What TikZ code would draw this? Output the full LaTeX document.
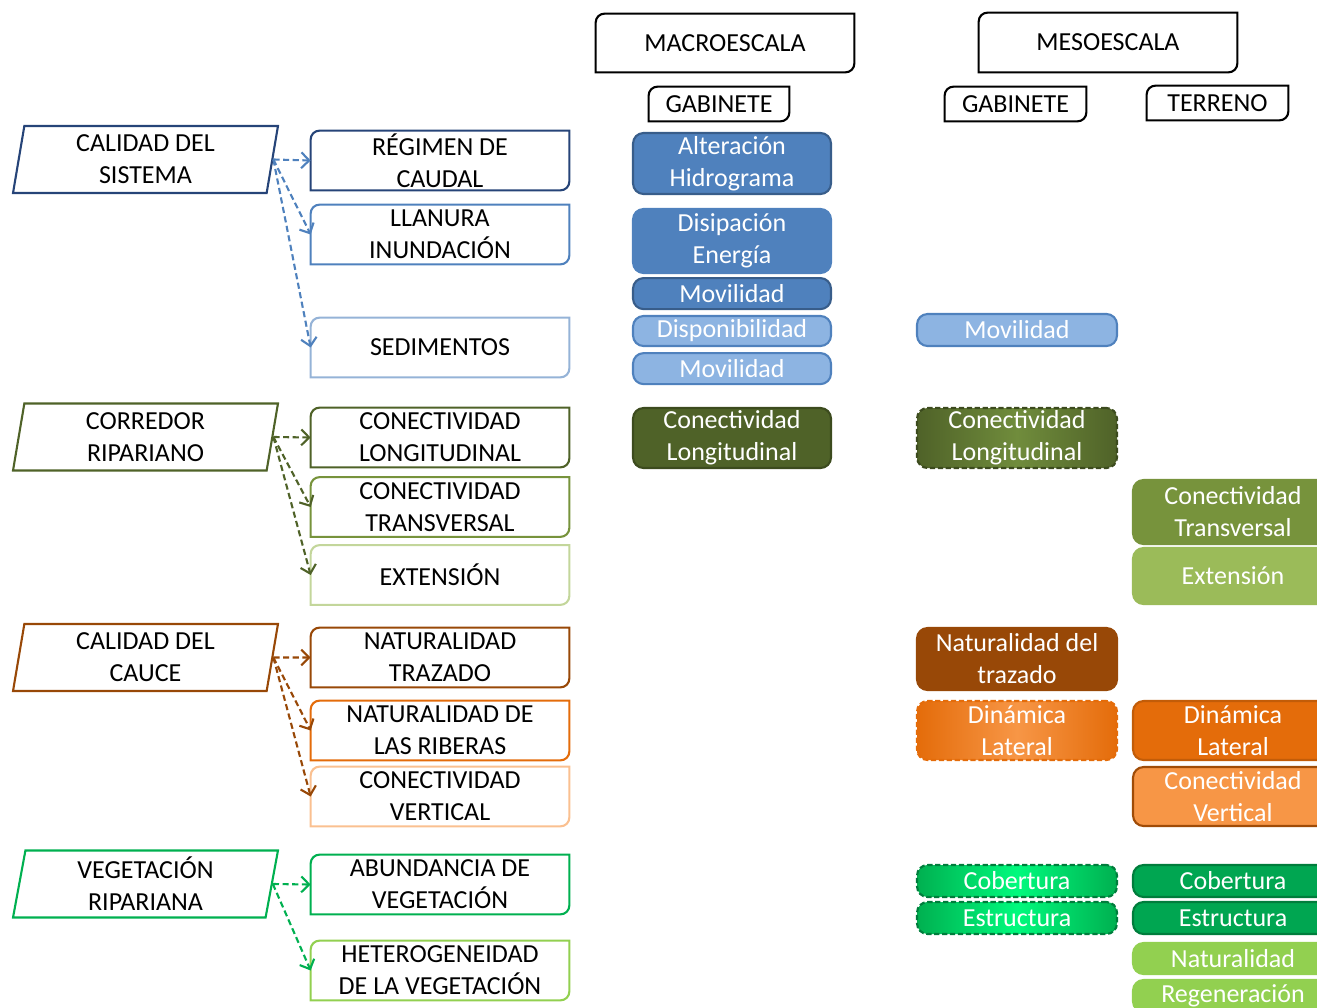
\documentclass[tikz,border=0pt]{standalone}
\usepackage{fontspec}
\setmainfont{Carlito}
\usetikzlibrary{positioning}
\usetikzlibrary{shapes.geometric}
\usetikzlibrary{arrows.meta}
\definecolor{azulosc}{RGB}{38,68,120}
\definecolor{azulm}{RGB}{79,129,189}
\definecolor{azulb}{RGB}{56,93,138}
\definecolor{azulcl}{RGB}{149,179,215}
\definecolor{azulrel}{RGB}{141,180,226}
\definecolor{olivo}{RGB}{79,98,40}
\definecolor{olivob}{RGB}{60,75,30}
\definecolor{olivoluz}{RGB}{112,140,60}
\definecolor{olivom}{RGB}{119,147,60}
\definecolor{olivocl}{RGB}{195,214,155}
\definecolor{olivorel}{RGB}{155,187,89}
\definecolor{cafe}{RGB}{152,72,7}
\definecolor{naranja}{RGB}{228,108,10}
\definecolor{naranjam}{RGB}{247,150,70}
\definecolor{naranjacl}{RGB}{250,192,144}
\definecolor{verde}{RGB}{0,176,80}
\definecolor{verdeosc}{RGB}{0,166,81}
\definecolor{verdeb}{RGB}{0,125,60}
\definecolor{verdeluz}{RGB}{0,250,125}
\definecolor{verdecl}{RGB}{146,208,80}
\tikzstyle{cat} = [trapezium, trapezium left angle=77, trapezium right angle=103,
    trapezium stretches body, draw, line width=1.2pt,
    minimum width=5.3cm, minimum height=1.34cm, align=center, inner sep=0pt]
\tikzstyle{sub} = [minimum width=5.16cm, minimum height=1.18cm, align=center, inner sep=0pt]
\tikzstyle{hdr} = [minimum height=0.68cm, inner sep=0pt]
\tikzstyle{ind} = [rectangle, rounded corners=6pt, draw, line width=1.2pt, text=white,
    align=center, minimum width=3.96cm, inner sep=0pt]
\tikzstyle{est} = [ind, dashed, dash pattern=on 3pt off 1.5pt]
\tikzstyle{dline} = [line width=1.2pt]
\tikzstyle{arr} = [draw, dashed, dash pattern=on 3.5pt off 2pt, line width=1.2pt,
    -{Straight Barb[length=4.5pt, width=9pt]}]

\begin{document}
\begin{tikzpicture}[x=0.02cm, y=-0.02cm, font=\fontsize{14.8}{18.2}\selectfont]
    \useasboundingbox (0,0) rectangle (1317,1007);
    % Headers
    \node[hdr, minimum width=5.16cm, minimum height=1.16cm] (mac) at (725,43) {MACROESCALA};
    \node[hdr, minimum width=5.16cm, minimum height=1.18cm] (mes) at (1108,42.5) {MESOESCALA};
    \node[hdr, minimum width=2.8cm] (gmac) at (719,104) {GABINETE};
    \node[hdr, minimum width=2.82cm] (gmes) at (1015.5,104) {GABINETE};
    \node[hdr, minimum width=2.82cm] (ter) at (1217.5,103) {TERRENO};
    % Categories
    \node[cat, draw=azulosc] (cs) at (145.5,159.5) {CALIDAD DEL\\SISTEMA};
    \node[cat, draw=olivo] (cr) at (145.5,437) {CORREDOR\\RIPARIANO};
    \node[cat, draw=cafe] (cc) at (145.5,657.5) {CALIDAD DEL\\CAUCE};
    \node[cat, draw=verde] (vr) at (145.5,884) {VEGETACIÓN\\RIPARIANA};
    % Factors
    \node[sub] (reg) at (440,160.5) {RÉGIMEN DE\\CAUDAL};
    \node[sub] (lla) at (440,234.5) {LLANURA\\INUNDACIÓN};
    \node[sub] (sed) at (440,347.5) {SEDIMENTOS};
    \node[sub] (clo) at (440,437.5) {CONECTIVIDAD\\LONGITUDINAL};
    \node[sub] (ctr) at (440,507) {CONECTIVIDAD\\TRANSVERSAL};
    \node[sub] (ext) at (440,575) {EXTENSIÓN};
    \node[sub] (ntr) at (440,657.5) {NATURALIDAD\\TRAZADO};
    \node[sub] (nri) at (440,730.5) {NATURALIDAD DE\\LAS RIBERAS};
    \node[sub] (cve) at (440,796.5) {CONECTIVIDAD\\VERTICAL};
    \node[sub] (abu) at (440,884.5) {ABUNDANCIA DE\\VEGETACIÓN};
    \node[sub] (het) at (440,970.5) {HETEROGENEIDAD\\DE LA VEGETACIÓN};
    % Outlines with two round corners
    \foreach \n/\c in {mac/black, mes/black, gmac/black, gmes/black, ter/black,
        reg/azulosc, lla/azulm, sed/azulcl, clo/olivo, ctr/olivom, ext/olivocl,
        ntr/cafe, nri/naranja, cve/naranjacl, abu/verde, het/verdecl}
        \draw[dline, draw=\c] ([yshift=-5pt]\n.north west) arc[start angle=180, end angle=90, radius=5pt]
            -- (\n.north east) -- ([yshift=5pt]\n.south east) arc[start angle=0, end angle=-90, radius=5pt]
            -- (\n.south west) -- cycle;
    % Macroescala - gabinete
    \node[ind, fill=azulm, draw=azulb, minimum height=1.22cm] (alt) at (732,163.5) {Alteración\\Hidrograma};
    \node[ind, fill=azulm, draw=azulm, minimum height=1.28cm] (dis) at (732,241) {Disipación\\Energía};
    \node[ind, fill=azulm, draw=azulb, minimum height=0.62cm, below=0.06cm of dis] (mova) {Movilidad};
    \node[ind, fill=azulrel, draw=azulm, minimum height=0.6cm] (disp) at (732,331) {Disponibilidad};
    \node[ind, fill=azulrel, draw=azulm, minimum height=0.62cm, below=0.1cm of disp] (movb) {Movilidad};
    \node[ind, fill=olivo, draw=olivob, minimum height=1.2cm] (clom) at (732,438) {Conectividad\\Longitudinal};
    % Mesoescala - gabinete
    \node[ind, fill=azulrel, draw=azulm, minimum width=4cm, minimum height=0.64cm] (movc) at (1017,330) {Movilidad};
    \node[est, left color=olivo, right color=olivo, middle color=olivoluz, draw=olivob,
        minimum width=4cm, minimum height=1.2cm] (clog) at (1017,438) {Conectividad\\Longitudinal};
    \node[ind, fill=cafe, draw=cafe, minimum width=4cm, minimum height=1.24cm] (ntrg) at (1017,659) {Naturalidad del\\trazado};
    \node[est, left color=naranja, right color=naranja, middle color=naranjam, draw=naranja,
        minimum width=4cm, minimum height=1.18cm] (ding) at (1017,730.5) {Dinámica\\Lateral};
    \node[est, left color=verde, right color=verde, middle color=verdeluz, draw=verdeb,
        minimum width=4cm, minimum height=0.64cm] (cobg) at (1017,881) {Cobertura};
    \node[est, left color=verde, right color=verde, middle color=verdeluz, draw=verdeb,
        minimum width=4cm, minimum height=0.64cm] (estg) at (1017,918) {Estructura};
    % Mesoescala - terreno
    \node[ind, fill=olivom, draw=olivom, minimum width=4cm, minimum height=1.28cm] (ctrt) at (1233,512) {Conectividad\\Transversal};
    \node[ind, fill=olivorel, draw=olivorel, minimum width=4cm, minimum height=1.12cm] (extt) at (1233,576) {Extensión};
    \node[ind, fill=naranja, draw=naranja!85!black, minimum width=4cm, minimum height=1.18cm] (dint) at (1233,730.5) {Dinámica\\Lateral};
    \node[ind, fill=naranjam, draw=naranja!70!black, minimum width=4cm, minimum height=1.18cm] (cvet) at (1233,796.5) {Conectividad\\Vertical};
    \node[ind, fill=verdeosc, draw=verdeb, minimum width=4cm, minimum height=0.64cm] (cobt) at (1233,881) {Cobertura};
    \node[ind, fill=verdeosc, draw=verdeb, minimum width=4cm, minimum height=0.64cm] (estt) at (1233,918) {Estructura};
    \node[ind, fill=verdecl, draw=verdecl, minimum width=4cm, minimum height=0.62cm] (natt) at (1233,958.5) {Naturalidad};
    \node[ind, fill=verdecl, draw=verdecl, minimum width=4cm, minimum height=0.64cm] (regt) at (1233,996) {Regeneración};
    % Draw edges
    \path[arr, draw=azulm] (cs.east) -- (reg.west);
    \path[arr, draw=azulm] (cs.east) -- (lla.west);
    \path[arr, draw=azulm] (cs.east) -- (sed.west);
    \path[arr, draw=olivo] (cr.east) -- (clo.west);
    \path[arr, draw=olivo] (cr.east) -- (ctr.west);
    \path[arr, draw=olivo] (cr.east) -- (ext.west);
    \path[arr, draw=cafe] (cc.east) -- (ntr.west);
    \path[arr, draw=cafe] (cc.east) -- (nri.west);
    \path[arr, draw=cafe] (cc.east) -- (cve.west);
    \path[arr, draw=verde] (vr.east) -- (abu.west);
    \path[arr, draw=verde] (vr.east) -- (het.west);
\end{tikzpicture}
\end{document}
